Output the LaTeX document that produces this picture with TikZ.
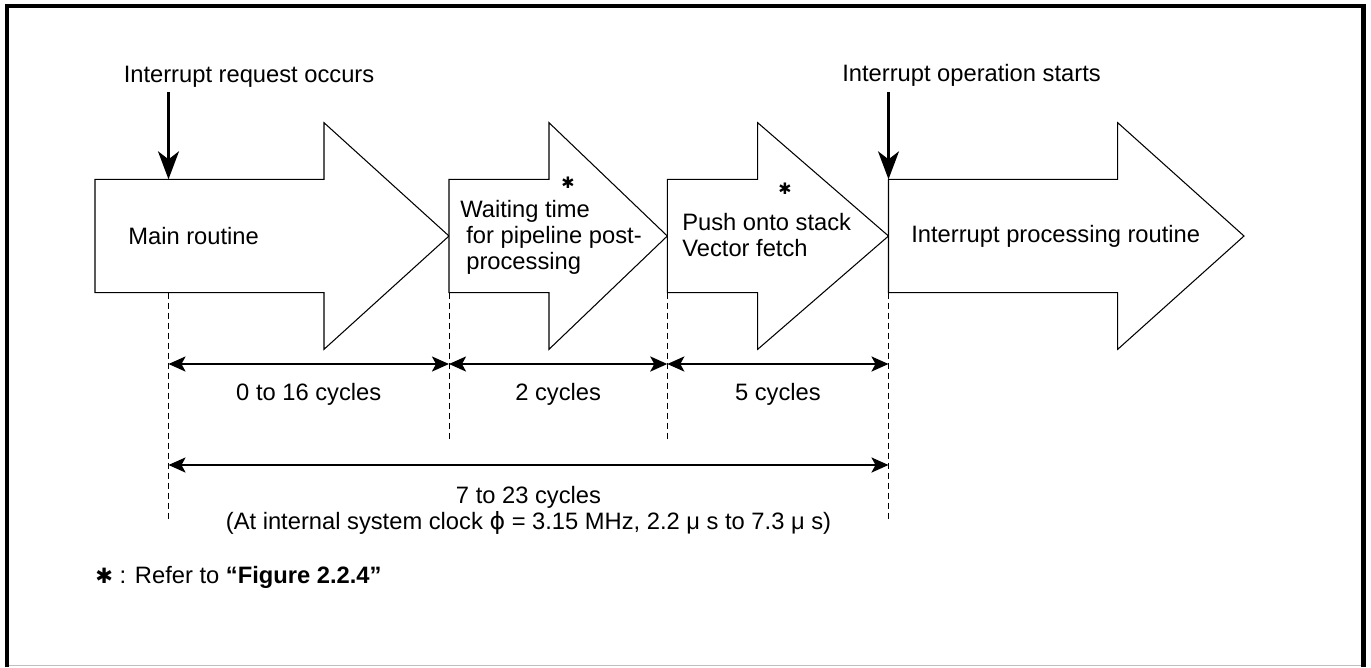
\documentclass[tikz,border=0pt]{standalone}
\usepackage{fontspec}
\setmainfont{Liberation Sans}
\newfontfamily\symfont{DejaVu Sans}
\usetikzlibrary{arrows.meta}

\begin{document}
\begin{tikzpicture}[
    x=0.02cm, y=-0.02cm,
    every node/.style={font=\fontsize{13.5}{15}\selectfont, inner sep=0pt},
    stage/.style={draw, fill=white, line width=0.6pt, line join=miter},
    stagetext/.style={anchor=west, align=left},
    event/.style={outer sep=3pt},
    eventarrow/.style={-{Stealth[length=0.56cm, width=0.42cm, inset=0.16cm]}, line width=1.2pt},
    guide/.style={dashed, dash pattern=on 0.12cm off 0.08cm, line width=0.5pt},
    dim/.style={{Stealth[length=0.34cm, width=0.3cm, inset=0.08cm]}-{Stealth[length=0.34cm, width=0.3cm, inset=0.08cm]}, line width=1.4pt},
    cyc/.style={anchor=base, yshift=-0.73cm},
    star/.style={font=\symfont\fontsize{9}{9}\selectfont}
]
\useasboundingbox (0,0) rectangle (1371,667);
% frame
\draw[line width=2.8pt] (7,667) -- (7,6) -- (1363.5,6) -- (1363.5,667);
\draw[black!25, line width=0.6pt] (9,665.5) -- (1361,665.5);

% block arrows
\foreach \tail/\neck/\tip in {95/324/449, 449/549/667.3, 667.3/757.7/888.5, 888.5/1117.7/1244}
  \draw[stage] (\tail,179.3) -- (\neck,179.3) -- (\neck,122.7) -- (\tip,236)
    -- (\neck,349.3) -- (\neck,292.7) -- (\tail,292.7) -- cycle;

\node[stagetext] (main) at (128,236) {Main routine};
\node[stagetext] (wait) at (460,237.5) {Waiting time\\\hspace*{0.12cm}for pipeline post-\\\hspace*{0.12cm}processing};
\node[stagetext] (push) at (682,235) {Push onto stack\\Vector fetch};
\node[stagetext] (isr) at (911,236) {Interrupt processing routine};
\node[star] (star1) at (568,183) {✱};
\node[star] (star2) at (785,189) {✱};

% events
\node[event, anchor=base west] (req) at (118.5,82.3) {Interrupt request occurs};
\node[event, anchor=base east] (start) at (1106,81.7) {Interrupt operation starts};
\coordinate (reqin) at (168.5,179.3);
\coordinate (startin) at (888.5,179.3);
\draw[eventarrow] (reqin |- req.south) -- (reqin);
\draw[eventarrow] (startin |- start.south) -- (startin);

% timing
\coordinate (m0) at (168.5,292.7);
\coordinate (m1) at (449,292.7);
\coordinate (m2) at (667.3,292.7);
\coordinate (m3) at (888.5,292.7);
\coordinate (e0) at (168.5,521);
\coordinate (e1) at (449,440);
\coordinate (e2) at (667.3,440);
\coordinate (e3) at (888.5,521);
\foreach \i in {0,...,3}
  \draw[guide] (m\i) -- (e\i);

\coordinate (d0) at (168.5,364);
\coordinate (d1) at (449,364);
\coordinate (d2) at (667.3,364);
\coordinate (d3) at (888.5,364);
\coordinate (s0) at (168.5,465);
\coordinate (s1) at (888.5,465);
\draw[dim] (d0) -- node[cyc] {0 to 16 cycles} (d1);
\draw[dim] (d1) -- node[cyc] {2 cycles} (d2);
\draw[dim] (d2) -- node[cyc] {5 cycles} (d3);
\draw[dim] (s0) -- node[anchor=base, yshift=-0.774cm] (total) {7 to 23 cycles}
  node[anchor=base, yshift=-1.294cm] (clock) {(At internal system clock {\symfont ϕ} = 3.15 MHz, 2.2 μ s to 7.3 μ s)} (s1);

% note
\node[anchor=base west] (note) at (95,583.3) {{\symfont\fontsize{12}{12}\selectfont ✱} : Refer to \textbf{“Figure 2.2.4”}};
\end{tikzpicture}
\end{document}
